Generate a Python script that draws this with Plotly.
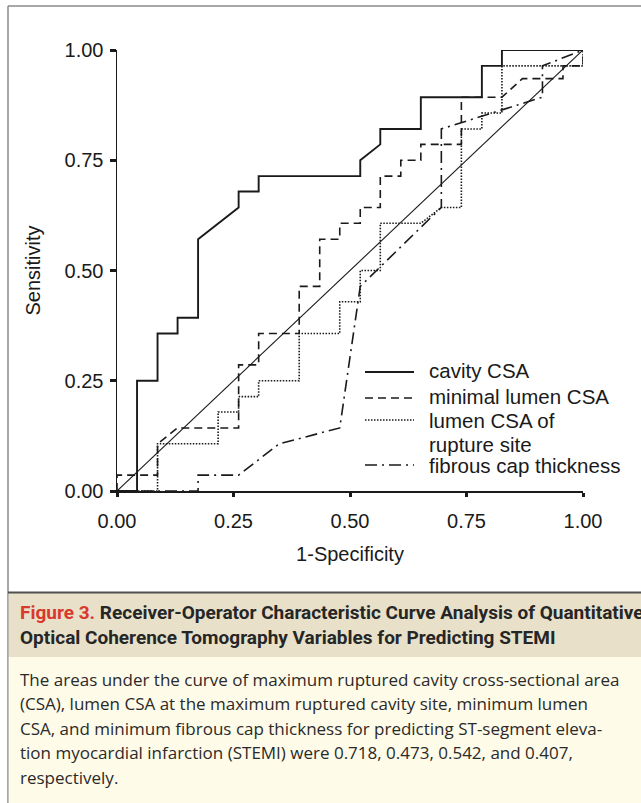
import plotly.graph_objects as go

# ---------------- data ----------------
cavity_x = [0, 0.043, 0.043, 0.087, 0.087, 0.130, 0.130, 0.174, 0.174, 0.261, 0.261, 0.304,
            0.304, 0.522, 0.522, 0.565, 0.565, 0.652, 0.652, 0.783, 0.783, 0.826, 0.826, 1.0]
cavity_y = [0, 0, 0.250, 0.250, 0.357, 0.357, 0.393, 0.393, 0.571, 0.643, 0.679, 0.679,
            0.714, 0.714, 0.750, 0.786, 0.821, 0.821, 0.893, 0.893, 0.964, 0.964, 1.0, 1.0]

minlumen_x = [0, 0, 0.087, 0.087, 0.130, 0.261, 0.261, 0.304, 0.304, 0.391, 0.391, 0.435,
              0.435, 0.478, 0.478, 0.522, 0.522, 0.565, 0.565, 0.609, 0.609, 0.652, 0.652,
              0.739, 0.739, 0.826, 0.870, 0.957, 0.957, 1.0, 1.0]
minlumen_y = [0, 0.036, 0.036, 0.107, 0.143, 0.143, 0.286, 0.286, 0.357, 0.357, 0.464, 0.464,
              0.571, 0.571, 0.607, 0.607, 0.643, 0.643, 0.714, 0.714, 0.750, 0.750, 0.786,
              0.786, 0.893, 0.893, 0.935, 0.935, 0.964, 0.964, 1.0]

rupture_x = [0, 0.087, 0.087, 0.217, 0.217, 0.261, 0.261, 0.304, 0.304, 0.391, 0.391, 0.478,
             0.478, 0.522, 0.522, 0.565, 0.565, 0.652, 0.696, 0.739, 0.739, 0.783, 0.783,
             0.826, 0.826, 1.0, 1.0]
rupture_y = [0, 0, 0.107, 0.107, 0.179, 0.179, 0.214, 0.214, 0.250, 0.250, 0.357, 0.357,
             0.429, 0.429, 0.500, 0.500, 0.607, 0.607, 0.643, 0.643, 0.821, 0.821, 0.857,
             0.857, 0.964, 0.964, 1.0]

fibrous_x = [0, 0.174, 0.174, 0.261, 0.348, 0.478, 0.522, 0.696, 0.696, 0.913, 0.913, 1.0]
fibrous_y = [0, 0, 0.036, 0.036, 0.107, 0.143, 0.464, 0.643, 0.821, 0.893, 0.964, 1.0]

ref_x = [0, 1]
ref_y = [0, 1]

tick_vals = [0, 0.25, 0.5, 0.75, 1.0]
tick_text = ["0.00", "0.25", "0.50", "0.75", "1.00"]

series_names = ["cavity CSA", "minimal lumen CSA", "lumen CSA of<br>rupture site",
                "fibrous cap thickness"]

header_lines = [
    "<b><span style='color:#d8392c'>Figure 3.</span> Receiver-Operator Characteristic Curve Analysis of Quantitative</b>",
    "<b>Optical Coherence Tomography Variables for Predicting STEMI</b>",
]
body_lines = [
    "The areas under the curve of maximum ruptured cavity cross-sectional area",
    "(CSA), lumen CSA at the maximum ruptured cavity site, minimum lumen",
    "CSA, and minimum fibrous cap thickness for predicting ST-segment eleva-",
    "tion myocardial infarction (STEMI) were 0.718, 0.473, 0.542, and 0.407,",
    "respectively.",
]

# ---------------- layout helpers ----------------
FW, FH = 641, 803
L, R, T, B = 117, 58, 50, 312
PW, PH = FW - L - R, FH - T - B


def px2x(px):
    return (px - L) / PW


def py2y(py):
    return (FH - B - py) / PH


INK = "#1a1a1a"
styles = [
    dict(color=INK, width=1.9),
    dict(color=INK, width=1.6, dash="8px,5px"),
    dict(color=INK, width=1.6, dash="1.5px,1.5px"),
    dict(color=INK, width=1.6, dash="12px,5px,2px,5px"),
]

fig = go.Figure()
fig.add_trace(go.Scatter(x=ref_x, y=ref_y, mode="lines", line=dict(color=INK, width=1.1),
                         showlegend=False, hoverinfo="skip", cliponaxis=False))
for xs, ys, nm, st in zip([cavity_x, minlumen_x, rupture_x, fibrous_x],
                          [cavity_y, minlumen_y, rupture_y, fibrous_y],
                          series_names, styles):
    fig.add_trace(go.Scatter(x=xs, y=ys, mode="lines", name=nm.replace("<br>", " "),
                             line=st, showlegend=False, cliponaxis=False))

axis_font = dict(family="Liberation Sans, Arial, sans-serif", size=20, color=INK)
legend_font = dict(family="Liberation Sans, Arial, sans-serif", size=20.5, color=INK)

shapes = [
    # frame
    dict(type="line", xref="paper", yref="paper", x0=px2x(8), x1=px2x(660), y0=py2y(6), y1=py2y(6),
         line=dict(color="#8a8a8a", width=1.5), layer="below"),
    dict(type="line", xref="paper", yref="paper", x0=px2x(8), x1=px2x(8), y0=py2y(6), y1=py2y(810),
         line=dict(color="#8a8a8a", width=1.5), layer="below"),
    # header band
    dict(type="rect", xref="paper", yref="paper", x0=px2x(8.7), x1=px2x(660), y0=py2y(593), y1=py2y(657),
         fillcolor="#e8e0c9", line=dict(width=0), layer="below"),
    # body band
    dict(type="rect", xref="paper", yref="paper", x0=px2x(8.7), x1=px2x(660), y0=py2y(657), y1=py2y(810),
         fillcolor="#fefbe9", line=dict(width=0), layer="below"),
    # dark rule on top of header
    dict(type="line", xref="paper", yref="paper", x0=px2x(8), x1=px2x(660), y0=py2y(592.5), y1=py2y(592.5),
         line=dict(color="#505050", width=1.8), layer="below"),
]

annotations = []

# legend (drawn by hand to match the reference spacing)
legend_sample_y = [372, 398, 420, 465]
legend_text_rows = [(series_names[0], 370), (series_names[1], 396), ("lumen CSA of", 420),
                    ("rupture site", 444), (series_names[3], 465)]
for st, yy in zip(styles, legend_sample_y):
    shapes.append(dict(type="line", xref="paper", yref="paper", x0=px2x(365), x1=px2x(414),
                       y0=py2y(yy), y1=py2y(yy), line=st))
for txt, yy in legend_text_rows:
    annotations.append(dict(xref="paper", yref="paper", x=px2x(427), y=py2y(yy), xanchor="left",
                            yanchor="middle", showarrow=False, text=txt, font=legend_font))

header_y = [612, 637]
for txt, yy in zip(header_lines, header_y):
    annotations.append(dict(xref="paper", yref="paper", x=px2x(18), y=py2y(yy), xanchor="left",
                            yanchor="middle", showarrow=False, text=txt,
                            font=dict(family="Roboto, sans-serif", size=19, color="#262626")))
body_y = [679, 703.5, 728, 752.5, 777]
for txt, yy in zip(body_lines, body_y):
    annotations.append(dict(xref="paper", yref="paper", x=px2x(18), y=py2y(yy), xanchor="left",
                            yanchor="middle", showarrow=False, text=txt,
                            font=dict(family="Open Sans, Noto Sans, sans-serif", size=17, color="#2a2a2a")))

fig.update_layout(
    width=FW, height=FH,
    margin=dict(l=L, r=R, t=T, b=B, pad=0),
    paper_bgcolor="white", plot_bgcolor="white",
    showlegend=False,
    xaxis=dict(range=[0, 1], tickvals=tick_vals, ticktext=tick_text, showgrid=False, zeroline=False,
               showline=True, linecolor=INK, linewidth=1.5, ticks="outside", ticklen=4, tickwidth=3,
               tickcolor=INK, tickfont=axis_font, ticklabelstandoff=7,
               title=dict(text="1-Specificity", font=axis_font, standoff=16)),
    yaxis=dict(range=[0, 1], tickvals=tick_vals, ticktext=tick_text, showgrid=False, zeroline=False,
               showline=True, linecolor=INK, linewidth=1.5, ticks="outside", ticklen=6, tickwidth=3,
               tickcolor=INK, tickfont=axis_font, ticklabelstandoff=2,
               title=dict(text="Sensitivity", font=axis_font, standoff=18)),
    shapes=shapes,
    annotations=annotations,
)

fig.write_html("out.html", config={"displayModeBar": False, "staticPlot": True},
               post_script="document.body.style.margin='0';document.body.style.overflow='hidden';")
